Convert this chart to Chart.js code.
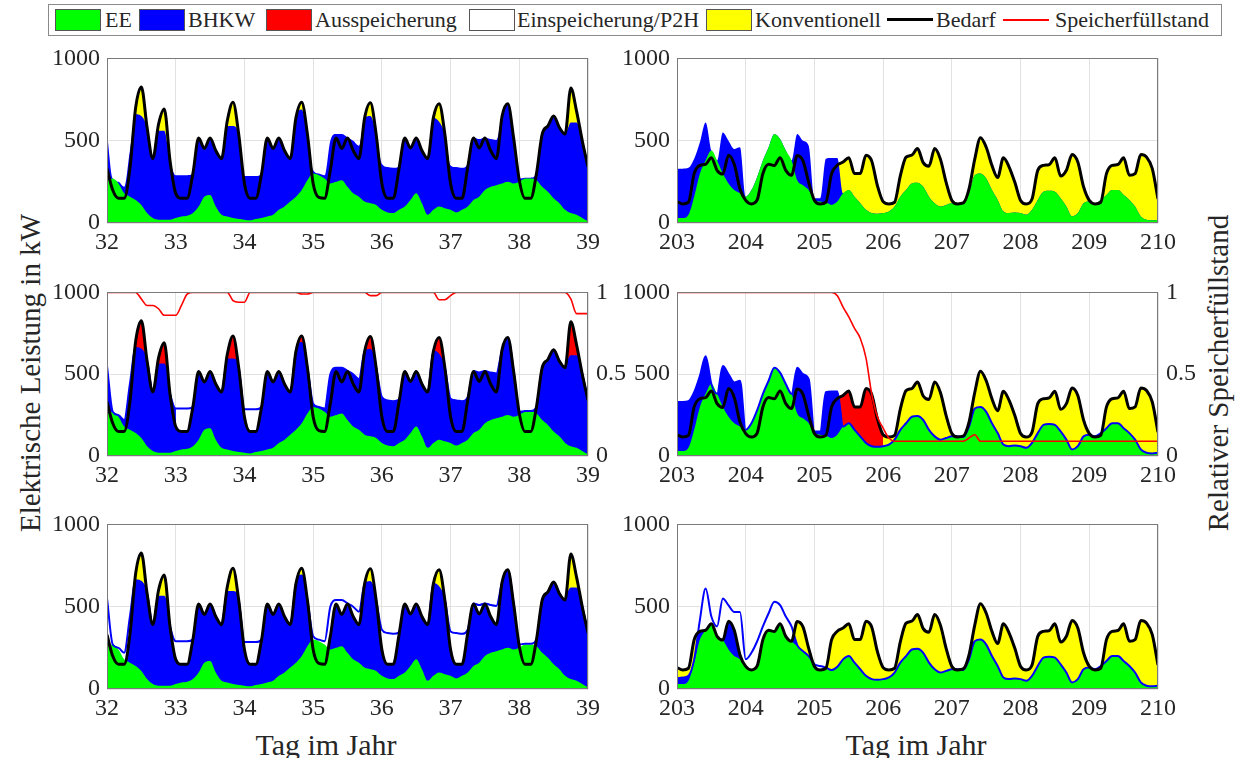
<!DOCTYPE html>
<html>
<head>
<meta charset="utf-8">
<script src="https://cdn.jsdelivr.net/npm/chart.js@4.4.1/dist/chart.umd.min.js"></script>
<style>
  html, body { margin: 0; padding: 0; background: #fff; }
  body { width: 1242px; height: 758px; position: relative; overflow: hidden;
         font-family: "Liberation Serif", "Times New Roman", serif; color: #262626; }
  canvas.pnl { position: absolute; }
  #legend { position: absolute; left: 48px; top: 4px; width: 1174px; height: 32px;
            border: 1px solid #8a8a8a; box-sizing: border-box; background: #fff; }
  #legend .sw { position: absolute; top: 4px; width: 46px; height: 22px; box-sizing: border-box; border: 1px solid #555; }
  #legend .ln { position: absolute; width: 46px; }
  #legend .tx { position: absolute; top: 0; line-height: 30px; font-size: 22px; white-space: nowrap; }
  .ttl { position: absolute; font-size: 30px; white-space: nowrap; transform: translate(-50%, -50%); }
  .rot { font-size: 29px; transform: translate(-50%, -50%) rotate(-90deg); }
</style>
</head>
<body>

<div id="legend">
  <div class="sw" style="left:6px;background:#00ff00"></div><div class="tx" style="left:56px">EE</div>
  <div class="sw" style="left:90px;background:#0000ff"></div><div class="tx" style="left:139px">BHKW</div>
  <div class="sw" style="left:217px;background:#ff0000"></div><div class="tx" style="left:266px">Ausspeicherung</div>
  <div class="sw" style="left:420px;background:#ffffff"></div><div class="tx" style="left:468px">Einspeicherung/P2H</div>
  <div class="sw" style="left:657px;background:#ffff00"></div><div class="tx" style="left:706px">Konventionell</div>
  <div class="ln" style="left:838px;top:13px;height:3px;background:#000"></div><div class="tx" style="left:887px">Bedarf</div>
  <div class="ln" style="left:954px;top:14px;height:2px;background:#ff0000"></div><div class="tx" style="left:1006px">Speicherfüllstand</div>
</div>

<div class="ttl rot" style="left:30px;top:373px">Elektrische Leistung in kW</div>
<div class="ttl rot" style="left:1218px;top:373px">Relativer Speicherfüllstand</div>
<div class="ttl" style="left:326px;top:745px">Tag im Jahr</div>
<div class="ttl" style="left:916px;top:745px">Tag im Jahr</div>

<script>
// sample grid: hours of the week, every two hours
var hours = [0,2,4,6,8,10,12,14,16,18,20,22,24,26,28,30,32,34,36,38,40,42,44,46,
  48,50,52,54,56,58,60,62,64,66,68,70,72,74,76,78,80,82,84,86,88,90,92,94,
  96,98,100,102,104,106,108,110,112,114,116,118,120,122,124,126,128,130,132,134,136,138,140,142,
  144,146,148,150,152,154,156,158,160,162,164,166,168];

var xTicksL = [32,33,34,35,36,37,38,39];
var xTicksR = [203,204,205,206,207,208,209,210];
var yTicks = [0,500,1000];
var y2Ticks = [0,0.5,1];

// ---- winter week (day 32-39), kW ----
var L_demand = [
  330,200,150,150,330,700,827,580,391,600,692,380,
  180,150,150,300,516,452,516,440,391,620,733,540,
  240,150,150,300,516,452,516,440,391,640,733,540,
  240,155,150,320,516,452,516,440,391,640,730,540,
  240,150,150,330,516,456,516,440,391,640,725,540,
  240,150,150,340,516,456,516,440,391,650,725,520,
  260,150,150,300,540,590,650,580,540,820,680,500,
  340];
var L_ee = [
  260,270,240,180,160,140,110,60,30,20,20,20,
  30,40,44,60,100,160,170,100,50,40,30,24,
  20,16,24,30,40,50,80,100,130,160,200,260,
  300,290,270,240,250,260,220,180,160,130,120,110,
  80,64,60,80,100,140,180,120,50,80,100,90,
  80,64,80,100,140,160,200,220,230,240,250,240,
  250,270,270,260,220,190,150,120,80,60,50,30,
  10];
// top of the BHKW band (EE + BHKW)
var L_bhkw = [
  550,270,250,220,440,660,650,580,391,560,560,380,
  290,290,290,300,516,452,516,440,391,590,590,540,
  285,285,285,300,516,452,516,440,391,640,690,540,
  320,300,290,500,540,540,520,500,470,640,650,540,
  360,340,335,345,516,456,516,440,391,640,615,540,
  350,340,335,360,520,510,520,510,505,650,725,520,
  270,275,275,300,540,590,650,580,540,610,610,500,
  340];
// storage charging (Einspeicherung), scenario 2 only
var L2_einsp = [
  null,null,null,null,null,null,null,null,null,null,null,null,
  290,290,290,300,null,null,null,null,null,null,null,null,
  285,285,285,300,null,null,null,null,null,null,null,null,
  null,null,null,null,null,null,null,null,null,null,null,null,
  null,null,null,null,null,null,null,null,null,null,null,null,
  null,null,null,null,null,null,null,null,null,null,null,null,
  null,null,null,null,null,null,null,null,null,null,null,null,
  null];
var L_store = [
  1,1,1,1,1,1,0.96,0.92,0.92,0.9,0.86,0.86,
  0.86,0.92,0.99,1,1,1,1,1,1,1,0.95,0.94,
  0.94,1,1,1,1,1,1,1,1,1,0.99,0.99,
  1,1,1,1,1,1,1,1,1,1,0.98,0.98,
  1,1,1,1,1,1,1,1,1,1,0.955,0.955,
  0.98,1,1,1,1,1,1,1,1,1,1,1,
  1,1,1,1,1,1,1,1,1,0.96,0.87,0.87,
  0.87];

// ---- summer week (day 203-210), kW ----
var R_demand = [
  130,116,126,300,350,357,397,320,297,412,357,207,
  137,116,140,300,357,350,397,320,290,410,377,247,
  137,116,126,300,351,370,397,300,300,412,377,227,
  130,116,126,287,400,412,452,367,345,452,388,247,
  137,116,122,207,388,518,460,350,277,396,340,247,
  137,116,146,320,350,355,396,285,320,416,370,220,
  137,116,126,300,350,355,396,290,300,416,400,330,
  146];
var R_ee = [
  30,30,50,160,300,380,440,380,300,240,200,180,
  160,200,280,380,460,540,510,440,380,260,230,200,
  140,130,124,110,130,180,200,160,120,80,60,56,
  60,70,100,160,200,240,245,220,160,120,100,110,
  120,120,116,180,290,300,270,200,140,70,60,64,
  60,50,80,140,190,196,190,150,100,40,60,120,
  130,120,140,170,200,200,170,140,100,40,20,16,
  20];
var R_bhkw = [
  330,330,335,390,490,610,440,380,550,500,450,460,
  160,200,280,380,460,540,510,440,380,540,500,470,
  150,150,390,395,395,180,200,160,120,80,60,56,
  60,70,100,160,200,240,245,220,160,120,100,110,
  120,120,116,180,290,300,270,200,140,70,60,64,
  60,50,80,140,190,196,190,150,100,40,60,120,
  130,120,140,170,200,200,170,140,100,40,20,16,
  20];
// storage discharge window, scenario 2
var R2_aus = [
  null,null,null,null,null,null,null,null,null,null,null,null,
  null,null,null,null,null,null,null,null,null,null,null,null,
  null,null,null,null,351,370,397,300,300,412,377,227,
  130,null,null,null,null,null,null,null,null,null,null,null,
  null,null,null,null,null,null,null,null,null,null,null,null,
  null,null,null,null,null,null,null,null,null,null,null,null,
  null,null,null,null,null,null,null,null,null,null,null,null,
  null];
var R_store = [
  1,1,1,1,1,1,1,1,1,1,1,1,
  1,1,1,1,1,1,1,1,1,1,1,1,
  1,1,1,1,0.98,0.91,0.85,0.78,0.72,0.6,0.38,0.24,
  0.17,0.11,0.09,0.09,0.09,0.09,0.09,0.09,0.09,0.09,0.09,0.09,
  0.09,0.09,0.09,0.11,0.13,0.09,0.09,0.09,0.09,0.09,0.09,0.09,
  0.09,0.09,0.09,0.09,0.09,0.09,0.09,0.09,0.09,0.09,0.09,0.09,
  0.09,0.09,0.09,0.09,0.09,0.09,0.09,0.09,0.09,0.09,0.09,0.09,
  0.09];
// scenario 3: EE used on site, and the BHKW line
var R3_ee = [
  30,30,50,160,300,357,397,320,297,240,200,180,
  137,116,140,300,357,350,397,320,290,260,230,200,
  137,116,124,110,130,180,200,160,120,80,60,56,
  60,70,100,160,200,240,245,220,160,120,100,110,
  120,116,116,180,290,300,270,200,140,70,60,64,
  60,50,80,140,190,196,190,150,100,40,60,120,
  130,116,126,170,200,200,170,140,100,40,20,16,
  20];
var R3_bhkw = [
  66,70,80,180,420,610,440,380,550,508,468,468,
  180,220,290,380,460,530,510,440,380,267,230,200,
  150,140,130,115,135,180,200,160,120,80,60,56,
  60,70,100,160,200,240,245,220,160,120,100,110,
  120,120,116,180,290,300,270,200,140,70,60,64,
  60,50,80,140,190,196,190,150,100,40,60,120,
  130,120,140,170,200,200,170,140,100,40,20,16,
  20];

var GREEN = '#00ff00', BLUE = '#0000ff', RED = '#ff0000', YELLOW = '#ffff00';
var FONT = '"Liberation Serif", "Times New Roman", serif';
var TXT = '#262626', GRID = '#e2e2e2', NONE = 'rgba(0,0,0,0)';

// plot boxes
var PW = 481, PH = 166;
var colX = [107, 677];
var rowY = [57, 290, 523];
var PAD_L = 80, PAD_T = 20, PAD_R = 60, PAD_B = 45;

function pts(start, ys) {
  return ys.map(function(y, i) { return { x: start + hours[i] / 24, y: y }; });
}
function area(start, ys, color) {
  return { data: pts(start, ys), borderWidth: 0, borderColor: NONE, backgroundColor: color, fill: 'origin' };
}
function line(start, ys, color, w, axis) {
  return { data: pts(start, ys), borderColor: color, borderWidth: w, fill: false, yAxisID: axis || 'y' };
}
// white band where this line is above the demand line (dataset index = target)
function band(start, ys, target) {
  return { data: pts(start, ys), borderWidth: 0, borderColor: NONE,
           fill: { target: target, above: '#ffffff', below: NONE } };
}

var framePlugin = {
  id: 'frame',
  afterDatasetsDraw: function(chart) {
    var a = chart.chartArea, c = chart.ctx;
    c.save();
    c.strokeStyle = '#7a7a7a';
    c.lineWidth = 1;
    c.strokeRect(Math.round(a.left) + 0.5, Math.round(a.top) + 0.5, Math.round(a.right - a.left) - 1, Math.round(a.bottom - a.top) - 1);
    c.restore();
  }
};

function fixTicks(list) {
  return function(ax) { ax.ticks = list.map(function(v) { return { value: v }; }); };
}

function makePanel(col, row, xTicks, sets, withY2) {
  var cv = document.createElement('canvas');
  cv.className = 'pnl';
  var w = PW + PAD_L + PAD_R, h = PH + PAD_T + PAD_B;
  cv.width = w; cv.height = h;
  cv.style.left = (colX[col] - PAD_L) + 'px';
  cv.style.top = (rowY[row] - PAD_T) + 'px';
  cv.style.width = w + 'px'; cv.style.height = h + 'px';
  document.body.appendChild(cv);

  var tf = { family: FONT, size: 24 };
  var lbl = function(v) { return String(v); };
  var scales = {
    x: { type: 'linear', min: xTicks[0], max: xTicks[xTicks.length - 1],
         afterBuildTicks: fixTicks(xTicks), afterFit: function(ax) { ax.height = PAD_B; },
         grid: { color: GRID, drawTicks: false }, border: { display: false },
         ticks: { font: tf, color: TXT, padding: 5, maxRotation: 0, autoSkip: false, callback: lbl } },
    y: { min: 0, max: 1000,
         afterBuildTicks: fixTicks(yTicks), afterFit: function(ax) { ax.width = PAD_L; },
         grid: { color: GRID, drawTicks: false }, border: { display: false },
         ticks: { font: tf, color: TXT, padding: 7, callback: lbl } }
  };
  if (withY2) {
    scales.y2 = { position: 'right', min: 0, max: 1,
         afterBuildTicks: fixTicks(y2Ticks), afterFit: function(ax) { ax.width = PAD_R; },
         grid: { display: false, drawTicks: false }, border: { display: false },
         ticks: { font: tf, color: TXT, padding: 8, callback: lbl } };
  }
  new Chart(cv, {
    type: 'line',
    data: { datasets: sets },
    options: {
      responsive: false, animation: false, devicePixelRatio: 1, events: [],
      layout: { padding: { left: 0, top: PAD_T, right: withY2 ? 0 : PAD_R, bottom: 0 } },
      elements: { point: { radius: 0 }, line: { cubicInterpolationMode: 'monotone' } },
      plugins: { legend: { display: false }, tooltip: { enabled: false } },
      scales: scales
    },
    plugins: [framePlugin]
  });
}

// row 1: reference case
makePanel(0, 0, xTicksL, [
  line(32, L_demand, '#000', 3),
  area(32, L_ee, GREEN),
  area(32, L_bhkw, BLUE),
  area(32, L_demand, YELLOW)
]);
makePanel(1, 0, xTicksR, [
  line(203, R_demand, '#000', 3),
  area(203, R_ee, GREEN),
  area(203, R_bhkw, BLUE),
  area(203, R_demand, YELLOW)
]);

// row 2: with storage
makePanel(0, 1, xTicksL, [
  line(32, L_store, RED, 1.6, 'y2'),
  line(32, L_demand, '#000', 3),
  line(32, L_bhkw, BLUE, 2),
  area(32, L_ee, GREEN),
  band(32, L2_einsp, 1),
  area(32, L_bhkw, BLUE),
  area(32, L_demand, RED)
], true);
makePanel(1, 1, xTicksR, [
  line(203, R_store, RED, 1.6, 'y2'),
  line(203, R_demand, '#000', 3),
  line(203, R_bhkw, BLUE, 2),
  area(203, R_ee, GREEN),
  area(203, R_bhkw, BLUE),
  area(203, R2_aus, RED),
  area(203, R_demand, YELLOW)
], true);

// row 3: with P2H
makePanel(0, 2, xTicksL, [
  line(32, L_demand, '#000', 3),
  line(32, L_bhkw, BLUE, 2),
  area(32, L_ee, GREEN),
  band(32, L_bhkw, 0),
  area(32, L_bhkw, BLUE),
  area(32, L_demand, YELLOW)
]);
makePanel(1, 2, xTicksR, [
  line(203, R_demand, '#000', 3),
  line(203, R3_bhkw, BLUE, 2),
  area(203, R3_ee, GREEN),
  band(203, R3_bhkw, 0),
  area(203, R3_bhkw, BLUE),
  area(203, R_demand, YELLOW)
]);
</script>
</body>
</html>
